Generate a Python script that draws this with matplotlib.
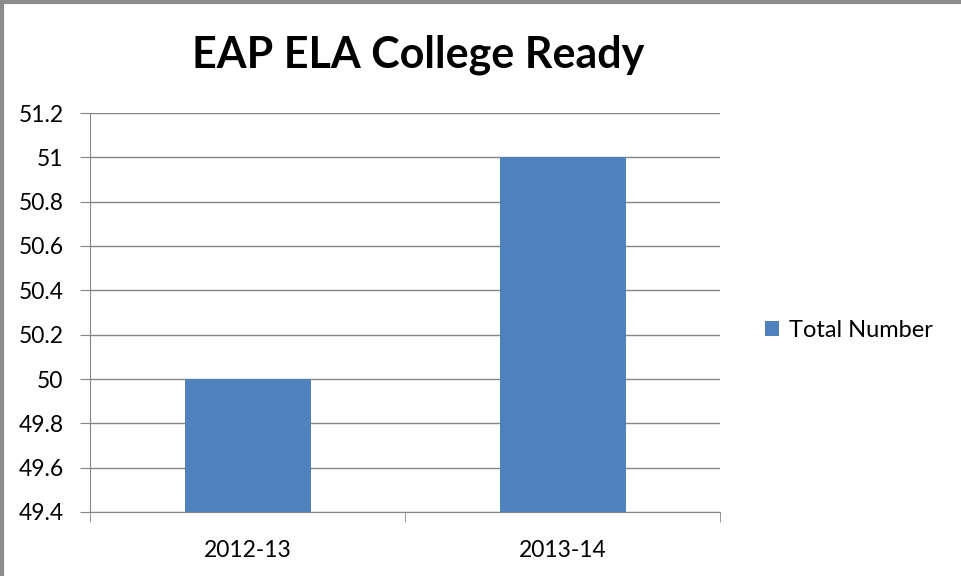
import matplotlib.pyplot as plt
import numpy as np

# dados
anos = ['2012-13', '2013-14']
total = [50, 51]

plt.rcParams['font.family'] = ['Lato', 'DejaVu Sans']

fig = plt.figure(figsize=(9.61, 5.76), dpi=100)
ax = fig.add_axes([90 / 961, 1 - 512 / 576, 630 / 961, 399 / 576])

indice = np.arange(len(anos))
ax.bar(indice, np.array(total) - 49.4, bottom=49.4, width=0.4,
       color='#4f81bd', label='Total Number', zorder=3)

ax.set_xlim(-0.5, len(anos) - 0.5)
ax.set_ylim(49.4, 51.2)
ax.set_yticks(np.arange(49.4, 51.21, 0.2))
ax.set_yticklabels(['49.4', '49.6', '49.8', '50', '50.2', '50.4', '50.6',
                    '50.8', '51', '51.2'])
ax.set_xticks(indice)
ax.set_xticklabels(anos)
# marcas de divisão entre categorias
ax.set_xticks(np.arange(-0.5, len(anos), 1), minor=True)
ax.tick_params(axis='x', which='major', length=0, pad=20, labelsize=16.5)
ax.tick_params(axis='x', which='minor', length=7, color='#868686')
ax.tick_params(axis='y', length=7, color='#868686', pad=12, labelsize=16.5)

ax.grid(axis='y', color='#868686', linewidth=1, zorder=0)
for s in ['top', 'right']:
    ax.spines[s].set_visible(False)
for s in ['left', 'bottom']:
    ax.spines[s].set_color('#868686')

ax.legend(loc='center left', bbox_to_anchor=(1.038, 0.455), frameon=False,
          fontsize=17, handlelength=0.6, handleheight=0.6, handletextpad=0.4)

fig.text(418 / 961, 1 - 55 / 576, 'EAP ELA College Ready', ha='center',
         va='center', fontsize=31, fontweight='bold')

# moldura
fig.add_artist(plt.Line2D([0.002, 0.002], [0, 1], color='#8c8c8c', lw=3,
                          transform=fig.transFigure))
fig.add_artist(plt.Line2D([0, 1], [0.997, 0.997], color='#8c8c8c', lw=3,
                          transform=fig.transFigure))

fig.savefig('out.png', dpi=100)
